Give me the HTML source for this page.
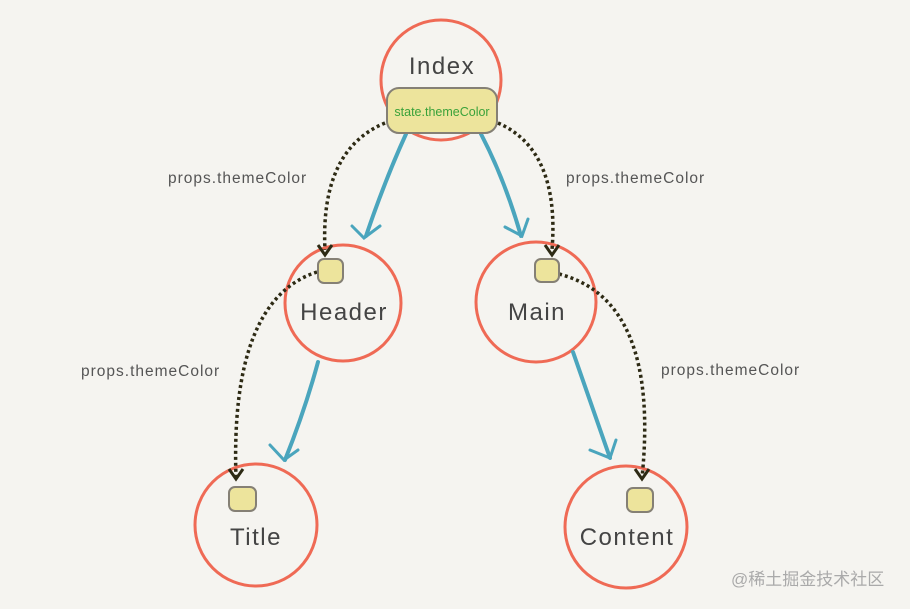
<!DOCTYPE html>
<html><head><meta charset="utf-8"><style>
html,body{margin:0;padding:0;background:#f5f4f0;}
svg{display:block}
</style></head><body>
<svg width="910" height="609" viewBox="0 0 910 609" xmlns="http://www.w3.org/2000/svg">
<rect width="910" height="609" fill="#f5f4f0"/>
<g fill="none" stroke="#ef6a55" stroke-width="3">
<circle cx="441" cy="80" r="60"/>
<circle cx="343" cy="303" r="58"/>
<circle cx="536" cy="302" r="60"/>
<circle cx="256" cy="525" r="61"/>
<circle cx="626" cy="527" r="61"/>
</g>
<g fill="none" stroke="#4aa5bd" stroke-width="4" stroke-linecap="round">
<path d="M406 134 Q385 180 366 236"/><path d="M352 226 L364 238 L380 226" stroke-width="3"/>
<path d="M481 134 Q505 180 521 236"/><path d="M505 227 L522 236 L528 219" stroke-width="3"/>
<path d="M318 362 Q305 410 285 460"/><path d="M270 445 L284 460 L298 450" stroke-width="3"/>
<path d="M573 352 Q590 400 610 458"/><path d="M590 450 L610 458 L616 440" stroke-width="3"/>
</g>
<g fill="none" stroke="#2d2a14" stroke-width="3.5" stroke-dasharray="3 3">
<path d="M385 123 Q320 150 325 250"/>
<path d="M498 123 Q560 150 552 250"/>
<path d="M317 272 Q230 300 236 478"/>
<path d="M559 274 Q660 300 642 478"/>
</g>
<g fill="none" stroke="#2d2a14" stroke-width="3">
<path d="M318 245 L325 255 L332 245"/>
<path d="M545 245 L552 255 L559 245"/>
<path d="M229 469 L236 479 L243 469"/>
<path d="M635 469 L642 479 L649 469"/>
</g>
<g fill="#ede49c" stroke="#858075" stroke-width="2">
<rect x="387" y="88" width="110" height="45" rx="12"/>
<rect x="318" y="259" width="25" height="24" rx="6"/>
<rect x="535" y="259" width="24" height="23" rx="6"/>
<rect x="229" y="487" width="27" height="24" rx="6"/>
<rect x="627" y="488" width="26" height="24" rx="6"/>
</g>
<text x="442" y="116" font-family="Liberation Sans,sans-serif" font-size="12.5" fill="#3aa23a" text-anchor="middle">state.themeColor</text>
<g font-family="Liberation Sans,sans-serif" fill="#444" text-anchor="middle" font-size="24" letter-spacing="1.5">
<text x="442" y="74">Index</text>
<text x="344" y="320">Header</text>
<text x="537" y="320">Main</text>
<text x="256" y="545">Title</text>
<text x="627" y="545">Content</text>
</g>
<g font-family="Liberation Sans,sans-serif" fill="#555" font-size="15.5" letter-spacing="1">
<text x="168" y="183">props.themeColor</text>
<text x="566" y="183">props.themeColor</text>
<text x="81" y="376">props.themeColor</text>
<text x="661" y="375">props.themeColor</text>
</g>
<text x="731" y="585" font-family="Liberation Sans,'Noto Sans CJK SC',sans-serif" font-size="17" fill="#aaa">@稀土掘金技术社区</text>
</svg>
</body></html>
